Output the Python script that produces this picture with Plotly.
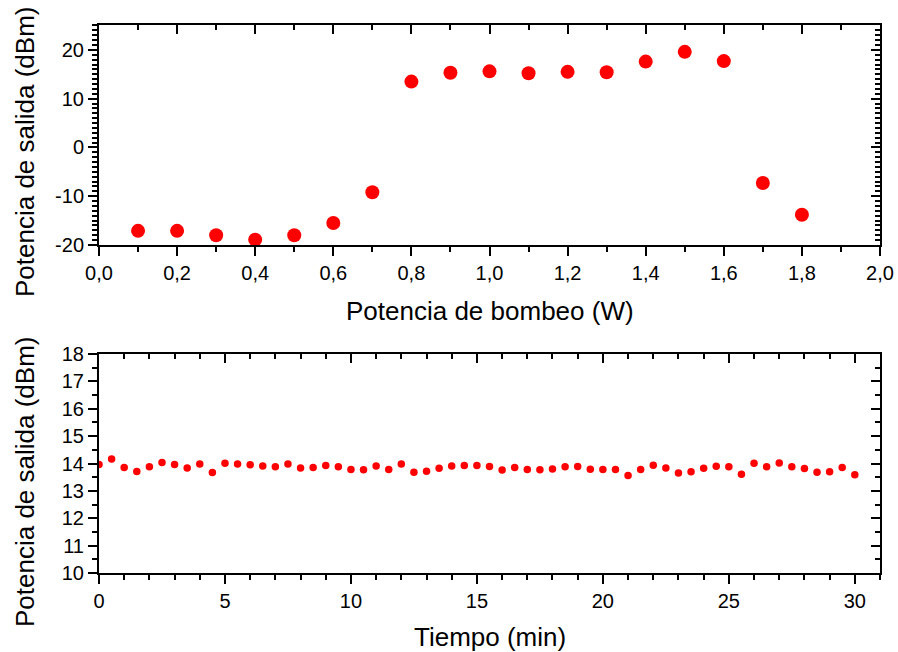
import plotly.graph_objects as go

# Output power versus pump power
pump_w = [0.1, 0.2, 0.3, 0.4, 0.5, 0.6, 0.7, 0.8, 0.9, 1.0,
          1.1, 1.2, 1.3, 1.4, 1.5, 1.6, 1.7, 1.8]
out_dbm = [-17.1, -17.1, -18.0, -18.9, -18.0, -15.5, -9.2, 13.5, 15.3, 15.6,
           15.2, 15.5, 15.4, 17.6, 19.6, 17.7, -7.3, -13.8]

# Output power stability over time
time_min = [i * 0.5 for i in range(61)]
stab_dbm = [13.96, 14.16, 13.85, 13.71, 13.88, 14.04, 13.96, 13.84, 13.98, 13.67,
            14.01, 13.98, 13.95, 13.91, 13.88, 13.98, 13.84, 13.85, 13.93, 13.88,
            13.78, 13.77, 13.91, 13.78, 13.98, 13.68, 13.72, 13.83, 13.91, 13.93,
            13.93, 13.89, 13.76, 13.85, 13.78, 13.77, 13.80, 13.88, 13.89, 13.79,
            13.78, 13.78, 13.56, 13.78, 13.94, 13.84, 13.65, 13.70, 13.83, 13.90,
            13.88, 13.61, 14.01, 13.88, 14.02, 13.88, 13.82, 13.68, 13.70, 13.85,
            13.59]

top_x_ticks = [0.0, 0.2, 0.4, 0.6, 0.8, 1.0, 1.2, 1.4, 1.6, 1.8, 2.0]
top_y_ticks = [-20, -10, 0, 10, 20]
top_y_text = ["-20", "-10", "0", "10", "20"]
bot_x_ticks = [0, 5, 10, 15, 20, 25, 30]
bot_y_ticks = [10, 11, 12, 13, 14, 15, 16, 17, 18]

W, H = 898, 652
FONT = "Arial, Liberation Sans, sans-serif"
RED = "#ff0000"

# plot areas in pixels (left, right, top, bottom)
x0, x1 = 99, 880
top_t, top_b = 25, 245
bot_t, bot_b = 354, 573

xd = [x0 / W, x1 / W]
top_yd = [1 - top_b / H, 1 - top_t / H]
bot_yd = [1 - bot_b / H, 1 - bot_t / H]

fig = go.Figure()
fig.add_trace(go.Scatter(x=pump_w, y=out_dbm, mode="markers",
                         marker=dict(color=RED, size=14), xaxis="x", yaxis="y",
                         showlegend=False))
fig.add_trace(go.Scatter(x=time_min, y=stab_dbm, mode="markers",
                         marker=dict(color=RED, size=7.5), xaxis="x2", yaxis="y2",
                         showlegend=False))
# carriers for the mirrored frame axes
for xa, ya in (("x3", "y3"), ("x4", "y4")):
    fig.add_trace(go.Scatter(x=[None], y=[None], mode="markers", xaxis=xa, yaxis=ya,
                             showlegend=False, hoverinfo="skip"))

tickfont = dict(family=FONT, size=20, color="black")
titlefont = dict(family=FONT, size=26, color="black")
line = dict(showline=True, linecolor="black", linewidth=2, showgrid=False,
            zeroline=False, automargin=False, tickcolor="black", tickwidth=1.6)
MAJ, MIN = 9, 5

top_xr = [0, 2.0]
top_yr = [-20, 25.1]
bot_xr = [0, 31]
bot_yr = [10, 18]


def minor(step, direction):
    return dict(dtick=step, ticklen=MIN, ticks=direction, tickcolor="black", tickwidth=1.6)


fig.update_layout(
    width=W, height=H, margin=dict(l=0, r=0, t=0, b=0),
    paper_bgcolor="white", plot_bgcolor="white", separators=", ",
    xaxis=dict(domain=xd, anchor="y", range=top_xr, tickvals=top_x_ticks,
               tickformat=".1f", ticks="outside", ticklen=MAJ, tickfont=tickfont,
               minor=minor(0.1, "outside"), **line),
    yaxis=dict(domain=top_yd, anchor="x", range=top_yr, tickvals=top_y_ticks,
               ticktext=top_y_text, ticks="outside", ticklen=MAJ, tickfont=tickfont,
               minor=minor(1, "outside"), **line),
    xaxis3=dict(overlaying="x", anchor="y3", side="top", range=top_xr, tickvals=top_x_ticks,
                ticks="inside", ticklen=MAJ, showticklabels=False,
                minor=minor(0.1, "inside"), **line),
    yaxis3=dict(overlaying="y", anchor="x3", side="right", range=top_yr, tickvals=top_y_ticks,
                ticks="inside", ticklen=MAJ, showticklabels=False,
                minor=minor(1, "inside"), **line),
    xaxis2=dict(domain=xd, anchor="y2", range=bot_xr, tickvals=bot_x_ticks,
                ticks="outside", ticklen=MAJ, tickfont=tickfont,
                minor=minor(1, "outside"), **line),
    yaxis2=dict(domain=bot_yd, anchor="x2", range=bot_yr, tickvals=bot_y_ticks,
                ticks="outside", ticklen=MAJ, tickfont=tickfont,
                minor=minor(0.5, "outside"), **line),
    xaxis4=dict(overlaying="x2", anchor="y4", side="top", range=bot_xr, tickvals=bot_x_ticks,
                ticks="inside", ticklen=MAJ, showticklabels=False,
                minor=minor(1, "inside"), **line),
    yaxis4=dict(overlaying="y2", anchor="x4", side="right", range=bot_yr, tickvals=bot_y_ticks,
                ticks="inside", ticklen=MAJ, showticklabels=False,
                minor=minor(0.5, "inside"), **line),
)

# axis titles
cx = (x0 + x1) / 2 / W
titles = [
    dict(text="Potencia de bombeo (W)", x=cx, y=1 - 311 / H, textangle=0),
    dict(text="Tiempo (min)", x=cx, y=1 - 637 / H, textangle=0),
    dict(text="Potencia de salida (dBm)", x=25 / W, y=1 - 152 / H, textangle=-90),
    dict(text="Potencia de salida (dBm)", x=25 / W, y=1 - 482 / H, textangle=-90),
]
for t in titles:
    fig.add_annotation(text=t["text"], x=t["x"], y=t["y"], xref="paper", yref="paper",
                       xanchor="center", yanchor="middle", textangle=t["textangle"],
                       showarrow=False, font=titlefont)

fig.write_html("out.html")
